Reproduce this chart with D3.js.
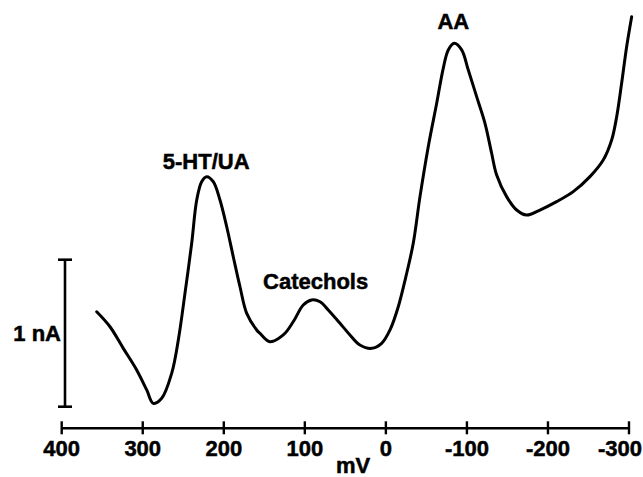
<!DOCTYPE html>
<html>
<head>
<meta charset="utf-8">
<script src="https://cdn.jsdelivr.net/npm/d3@7"></script>
<style>
  html, body { margin: 0; padding: 0; background: #fff; }
  svg { display: block; }
  text { font-family: "Liberation Sans", Arial, Helvetica, sans-serif; font-weight: bold; fill: #000; stroke: #000; stroke-width: 0.5px; }
</style>
</head>
<body>
<svg id="chart" width="643" height="477"></svg>
<script>
// Potential (mV) and current (nA)
const potential = [356.8, 340.4, 324.0, 307.5, 295.1, 287.0, 276.6, 264.3, 256.1, 247.9,
  239.6, 233.4, 227.3, 221.1, 213.0, 204.7, 196.4, 188.3, 180.0, 171.7,
  159.4, 155.3, 143.0, 126.6, 114.3, 101.9, 91.6, 81.3, 71.1, 56.6,
  44.3, 32.0, 17.5, 5.2, -5.1, -15.3, -24.5, -33.8, -42.1, -52.3,
  -62.7, -70.8, -77.0, -84.4, -93.5, -101.7, -112.0, -122.3, -130.5, -136.7,
  -149.0, -161.4, -173.7, -190.1, -210.7, -231.2, -251.8, -268.2, -278.6, -284.8,
  -290.9, -297.1, -303.3];
const current = [0.646, 0.544, 0.397, 0.250, 0.114, 0.023, 0.057, 0.227, 0.454, 0.771,
  1.112, 1.406, 1.531, 1.565, 1.531, 1.406, 1.224, 1.020, 0.816, 0.635,
  0.522, 0.499, 0.442, 0.488, 0.578, 0.692, 0.726, 0.714, 0.658, 0.567,
  0.488, 0.420, 0.397, 0.431, 0.522, 0.680, 0.880, 1.112, 1.429, 1.769,
  2.064, 2.302, 2.427, 2.472, 2.427, 2.290, 2.109, 1.928, 1.724, 1.576,
  1.429, 1.338, 1.304, 1.338, 1.395, 1.463, 1.565, 1.678, 1.814, 1.973,
  2.200, 2.449, 2.653];

const tickValues = [400, 300, 200, 100, 0, -100, -200, -300];
const tickLabels = ["400", "300", "200", "100", "0", "-100", "-200", "-300"];
const xTitle = "mV";
const scaleBarValue = [0, 1];
const scaleBarLabel = "1 nA";
const peakNames = ["5-HT/UA", "Catechols", "AA"];
const peakPotential = [221.1, 91.6, -84.4];
const peakCurrent = [1.565, 0.726, 2.472];

const W = 643;
const svg = d3.select("#chart");
const x = d3.scaleLinear().domain([400, -300]).range([61.7, 629]);
const y = d3.scaleLinear().domain([0, 2.5]).range([406.7, 39.2]);
const axisY = 428.3;
const fontSize = 22;

// x axis line
svg.append("line")
  .attr("x1", x(400)).attr("x2", x(-300))
  .attr("y1", axisY).attr("y2", axisY)
  .attr("stroke", "#000").attr("stroke-width", 2.6);

const ticks = svg.append("g");
ticks.selectAll("line").data(tickValues).join("line")
  .attr("x1", d => x(d)).attr("x2", d => x(d))
  .attr("y1", axisY - 7).attr("y2", axisY + 6)
  .attr("stroke", "#000").attr("stroke-width", 2.4);
const last = tickValues.length - 1;
ticks.selectAll("text").data(tickValues).join("text")
  .attr("x", (d, i) => i === last ? W - 1 : x(d))
  .attr("y", 456)
  .attr("text-anchor", (d, i) => i === last ? "end" : "middle")
  .attr("font-size", fontSize)
  .text((d, i) => tickLabels[i]);

svg.append("text")
  .attr("x", 353).attr("y", 473)
  .attr("text-anchor", "middle")
  .attr("font-size", fontSize)
  .text(xTitle);

// scale bar
const sbX = 65;
svg.append("line")
  .attr("x1", sbX).attr("x2", sbX)
  .attr("y1", y(scaleBarValue[0])).attr("y2", y(scaleBarValue[1]))
  .attr("stroke", "#000").attr("stroke-width", 2.6);
svg.selectAll(".cap").data(scaleBarValue).join("line")
  .attr("class", "cap")
  .attr("x1", sbX - 7).attr("x2", sbX + 7)
  .attr("y1", d => y(d)).attr("y2", d => y(d))
  .attr("stroke", "#000").attr("stroke-width", 2.6);
svg.append("text")
  .attr("x", 61).attr("y", (y(0) + y(1)) / 2 + 8)
  .attr("text-anchor", "end")
  .attr("font-size", fontSize)
  .text(scaleBarLabel);

// curve
const pts = potential.map((p, i) => [p, current[i]]);
const line = d3.line()
  .x(d => x(d[0])).y(d => y(d[1]))
  .curve(d3.curveCatmullRom.alpha(0.5));
svg.append("path")
  .attr("d", line(pts))
  .attr("fill", "none")
  .attr("stroke", "#000")
  .attr("stroke-width", 3)
  .attr("stroke-linejoin", "round")
  .attr("stroke-linecap", "round");

// peak labels
const labelOffsets = [8, 11, 14];
svg.selectAll(".peak").data(peakNames).join("text")
  .attr("class", "peak")
  .attr("x", (d, i) => x(peakPotential[i]) + (i === 0 ? -0.5 : i === 1 ? 4 : -1))
  .attr("y", (d, i) => y(peakCurrent[i]) - labelOffsets[i])
  .attr("text-anchor", "middle")
  .attr("font-size", fontSize)
  .text(d => d);
</script>
</body>
</html>
